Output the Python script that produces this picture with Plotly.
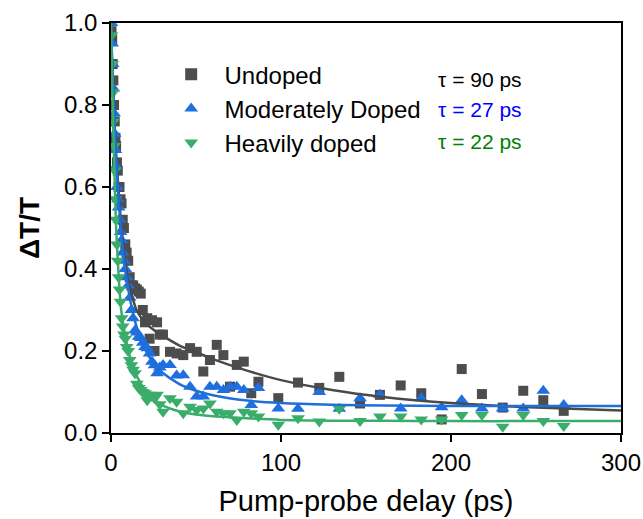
import plotly.graph_objects as go

# Shared delay grid (ps)
t = [0.3, 0.7, 1.0, 1.4, 1.8, 2.2, 2.6, 3.0, 3.5, 4.0, 4.5, 5.0, 5.6, 6.2, 6.9, 7.6, 8.4, 9.2,
     10.1, 11.0, 12.0, 13.0, 14.1, 15.2, 16.3, 17.5, 18.7, 20.0, 21.3, 22.7, 24.1, 25.6, 27.1,
     28.7, 30.6, 34.7, 38.6, 42.5, 46.5, 50.4, 54.3, 58.2, 62.2, 66.1, 70.0, 74.0, 78.1, 82.5,
     86.7, 98.4, 110, 122.5, 134.3, 146.5, 158.2, 170.4, 182.5, 194.5, 206.3, 218.2, 230.4,
     242.5, 254.3, 266.3]

undoped = [0.98, 0.96, 0.90, 0.86, 0.80, 0.76, 0.72, 0.70, 0.66, 0.64, 0.60, 0.60, 0.57, 0.56,
           0.52, 0.50, 0.46, 0.44, 0.42, 0.38, 0.36, 0.36, 0.353, 0.35, 0.345, 0.34, 0.30, 0.27,
           0.28, 0.23, 0.275, 0.20, 0.27, 0.24, 0.24, 0.198, 0.194, 0.19, 0.207, 0.198, 0.15,
           0.178, 0.215, 0.19, 0.113, 0.166, 0.174, 0.097, 0.125, 0.085, 0.123, 0.11, 0.137,
           0.072, 0.093, 0.116, 0.097, 0.033, 0.156, 0.095, 0.062, 0.103, 0.08, 0.054]

moderate = [1.0, 0.95, 0.90, 0.84, 0.78, 0.73, 0.69, 0.65, 0.60, 0.57, 0.55, 0.52, 0.49, 0.47,
            0.44, 0.42, 0.40, 0.38, 0.36, 0.33, 0.30, 0.28, 0.25, 0.245, 0.235, 0.232, 0.22,
            0.21, 0.207, 0.194, 0.174, 0.165, 0.146, 0.16, 0.166, 0.166, 0.14, 0.141, 0.113,
            0.089, 0.089, 0.113, 0.113, 0.105, 0.113, 0.113, 0.105, 0.068, 0.11, 0.06, 0.059,
            0.10, 0.059, 0.085, 0.093, 0.06, 0.085, 0.063, 0.08, 0.06, 0.06, 0.06, 0.103, 0.068]

heavy = [0.97, 0.90, 0.83, 0.76, 0.70, 0.64, 0.57, 0.52, 0.46, 0.42, 0.38, 0.35, 0.32, 0.28,
         0.26, 0.24, 0.23, 0.21, 0.20, 0.178, 0.165, 0.154, 0.146, 0.12, 0.11, 0.105, 0.10,
         0.097, 0.08, 0.093, 0.09, 0.085, 0.093, 0.07, 0.052, 0.085, 0.076, 0.048, 0.064,
         0.056, 0.06, 0.072, 0.052, 0.048, 0.048, 0.032, 0.052, 0.048, 0.04, 0.02, 0.036,
         0.028, 0.059, 0.029, 0.04, 0.04, 0.033, 0.033, 0.044, 0.044, 0.015, 0.044, 0.029, 0.017]

# Fit curves
fit_t = [0, 0.5, 1, 2, 3, 4, 5, 6, 8, 10, 12, 15, 20, 25, 30, 40, 50, 60, 80, 100, 130, 160,
         200, 250, 300]
fit_undoped = [1.0, 0.92, 0.86, 0.76, 0.68, 0.62, 0.56, 0.51, 0.43, 0.375, 0.34, 0.30, 0.27,
               0.252, 0.238, 0.214, 0.197, 0.18, 0.152, 0.129, 0.105, 0.088, 0.073, 0.062, 0.055]
fit_moderate = [1.0, 0.93, 0.87, 0.76, 0.67, 0.60, 0.54, 0.49, 0.41, 0.355, 0.31, 0.26, 0.205,
                0.17, 0.148, 0.12, 0.103, 0.092, 0.079, 0.073, 0.069, 0.067, 0.066, 0.066, 0.066]
fit_heavy = [1.0, 0.89, 0.80, 0.64, 0.50, 0.42, 0.35, 0.30, 0.245, 0.205, 0.175, 0.14, 0.105,
             0.083, 0.068, 0.053, 0.045, 0.041, 0.036, 0.032, 0.030, 0.030, 0.029, 0.029, 0.029]

names = ["Undoped", "Moderately Doped", "Heavily doped"]
taus = ["τ = 90 ps", "τ = 27 ps", "τ = 22 ps"]
x_ticks = [0, 100, 200, 300]
y_ticks = [0.0, 0.2, 0.4, 0.6, 0.8, 1.0]

marker_colors = ["#4d4d4d", "#1f6fe0", "#3aad6b"]
line_colors = ["#4a4a4a", "#1f6fd8", "#3aad6b"]
tau_colors = ["#000000", "#0000ff", "#008000"]
symbols = ["square", "triangle-up", "triangle-down"]
sizes = [10, 12, 12]

FONT = "Liberation Sans"
PAD = "\u00a0\u00a0"

fig = go.Figure()
for name, ys, sym, col, sz in zip(names, [undoped, moderate, heavy], symbols, marker_colors, sizes):
    fig.add_trace(go.Scatter(x=t, y=ys, mode="markers", name=PAD + name,
                             marker=dict(symbol=sym, size=sz, color=col, line=dict(width=0))))
for ys, col in zip([fit_undoped, fit_moderate, fit_heavy], line_colors):
    fig.add_trace(go.Scatter(x=fit_t, y=ys, mode="lines", showlegend=False,
                             line=dict(color=col, width=2.5, shape="spline", smoothing=0.6)))

tau_y = [0.861, 0.788, 0.712]
for txt, col, yy in zip(taus, tau_colors, tau_y):
    fig.add_annotation(x=0.8098, y=yy, xref="paper", yref="paper",
                       text=txt, showarrow=False, xanchor="right", yanchor="middle",
                       font=dict(size=21, color=col, family=FONT))

axis_common = dict(showline=True, linecolor="black", linewidth=1.5, mirror=True,
                   ticks="outside", ticklen=7, tickwidth=1.5, tickcolor="black",
                   showgrid=False, zeroline=False,
                   tickfont=dict(size=24, color="black", family=FONT))

fig.update_xaxes(range=[0, 300], tickvals=x_ticks, ticktext=[str(v) for v in x_ticks],
                 title=dict(text="Pump-probe delay (ps)", standoff=16,
                            font=dict(size=29, color="black", family=FONT)),
                 **axis_common)
fig.update_yaxes(range=[0, 1.0], tickvals=y_ticks, ticktext=[f"{v:.1f}" for v in y_ticks],
                 title=dict(text="<b>ΔT/T</b>", standoff=16,
                            font=dict(size=28, color="black", family=FONT)),
                 **axis_common)

fig.update_layout(
    width=643, height=519,
    margin=dict(l=111, r=22, t=23, b=86, autoexpand=False),
    paper_bgcolor="white", plot_bgcolor="white",
    legend=dict(x=0.118, y=0.929, xanchor="left", yanchor="top",
                bgcolor="rgba(0,0,0,0)", font=dict(size=24, color="black", family=FONT),
                itemsizing="constant", tracegroupgap=0),
)

fig.write_html("out.html")
